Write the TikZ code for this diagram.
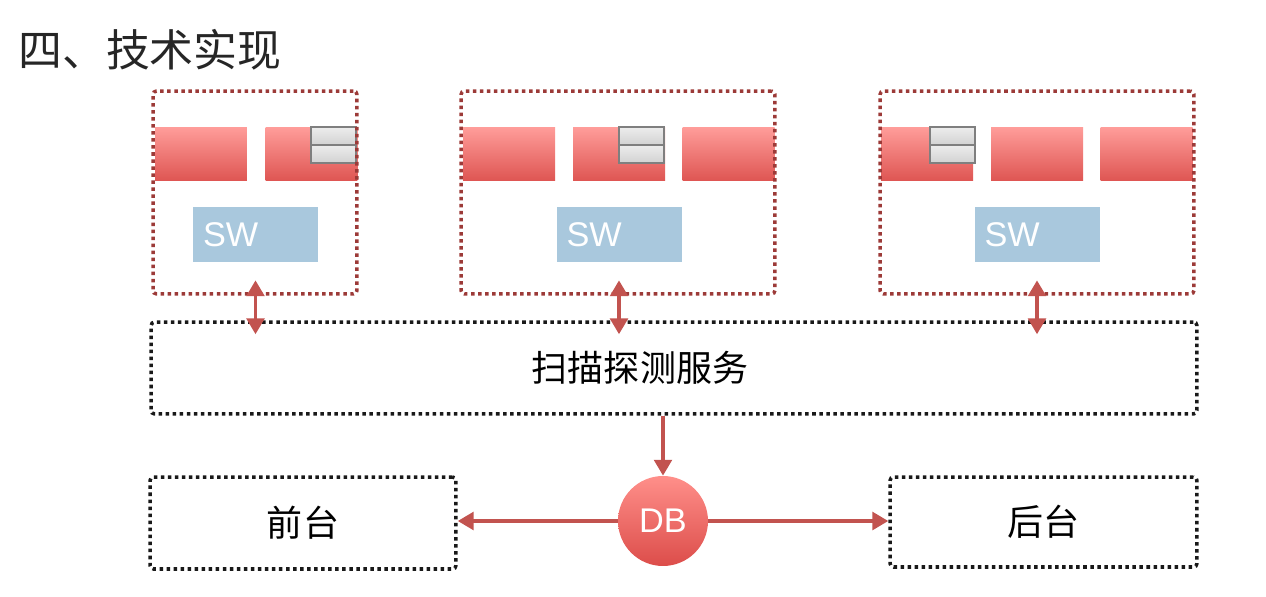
\documentclass[tikz,border=0pt]{standalone}
\usepackage{fontspec}
\setmainfont{Noto Sans CJK SC}
\setsansfont{Liberation Sans}
\usepackage{tikz}
\usetikzlibrary{positioning,arrows.meta,calc}
\definecolor{srvred}{HTML}{9C3A38}
\definecolor{linkred}{HTML}{C2534F}
\definecolor{blktop}{HTML}{FF9D9A}
\definecolor{blkbot}{HTML}{DE5552}
\definecolor{swblue}{HTML}{A9C8DD}
\definecolor{celltop}{HTML}{EDEDED}
\definecolor{cellbot}{HTML}{D2D2D2}
\definecolor{celledge}{HTML}{7F7F7F}
\definecolor{dbtop}{HTML}{FF8F8A}
\definecolor{dbbot}{HTML}{DC4D4A}
\newcommand{\lblfont}{\fontsize{20.5}{24}\selectfont}
\tikzset{
    server/.style = {
        draw=srvred,
        line width=2pt,
        dash pattern=on 2pt off 2pt,
        rounded corners=2pt,
        minimum height=4.06cm,
        inner sep=0pt
    },
    frame/.style = {
        draw=black!90,
        line width=2pt,
        dash pattern=on 2pt off 2pt,
        rounded corners=2pt,
        minimum height=1.84cm,
        inner sep=0pt,
        font=\lblfont
    },
    block/.style = {
        shape=rectangle,
        top color=blktop,
        bottom color=blkbot,
        minimum width=1.84cm,
        minimum height=1.08cm,
        inner sep=0pt
    },
    cell/.style = {
        draw=celledge,
        line width=0.8pt,
        top color=celltop,
        bottom color=cellbot,
        minimum width=0.9cm,
        minimum height=0.36cm,
        inner sep=0pt
    },
    sw/.style = {
        fill=swblue,
        minimum width=2.5cm,
        minimum height=1.1cm,
        text width=2.1cm,
        inner xsep=0.2cm,
        align=left,
        text=white,
        font=\sffamily\fontsize{19.5}{22}\selectfont
    },
    db/.style = {
        shape=circle,
        top color=dbtop,
        bottom color=dbbot,
        minimum size=1.8cm,
        inner sep=0pt,
        text=white,
        font=\sffamily\fontsize{19.5}{22}\selectfont
    },
    link/.style = {
        draw=linkred,
        line width=2pt
    },
    >={Triangle[width=10pt,length=9pt]},
}

\begin{document}
\begin{tikzpicture}[x=0.02cm, y=-0.02cm]
                \useasboundingbox (0,0) rectangle (1266,597);
                \node[anchor=west, font=\fontsize{25}{30}\selectfont, text=black!85] (title) at (12,50) {四、技术实现};

                % server A
                \node[block] (blkA1) at (201,154) {};
                \node[block] (blkA2) at (311.5,154) {};
                \node[cell] (cellA1) at (333.5,136) {};
                \node[cell] (cellA2) at (333.5,154) {};
                \node[sw] (swA) at (255.5,234.5) {SW};
                \node[server, minimum width=4.08cm] (srvA) at (255,192.5) {};

                % server B
                \node[block] (blkB1) at (509,154) {};
                \node[block] (blkB2) at (619,154) {};
                \node[block] (blkB3) at (728.5,154) {};
                \node[cell] (cellB1) at (641.5,136) {};
                \node[cell] (cellB2) at (641.5,154) {};
                \node[sw] (swB) at (619,234.5) {SW};
                \node[server, minimum width=6.28cm] (srvB) at (618,192.5) {};

                % server C
                \node[block] (blkC1) at (927,154) {};
                \node[block] (blkC2) at (1037,154) {};
                \node[block] (blkC3) at (1146.5,154) {};
                \node[cell] (cellC1) at (952.5,136) {};
                \node[cell] (cellC2) at (952.5,154) {};
                \node[sw] (swC) at (1037,234.5) {SW};
                \node[server, minimum width=6.28cm] (srvC) at (1037,192.5) {};

                \node[frame, minimum width=20.92cm, label={[font=\lblfont, xshift=-0.68cm]center:扫描探测服务}] (scan) at (674,368) {};
                \node[db] (db) at (663,521) {DB};
                \node[frame, minimum width=6.12cm] (front) at (303,523) {前台};
                \node[frame, minimum width=6.14cm, minimum height=1.8cm] (back) at (1043.5,522) {后台};

                \draw[link, <->] ($(swA.south)+(0,18)$) -- ($(swA.south |- scan.north)+(0,14)$);
                \draw[link, <->] ($(swB.south)+(0,18)$) -- ($(swB.south |- scan.north)+(0,14)$);
                \draw[link, <->] ($(swC.south)+(0,18)$) -- ($(swC.south |- scan.north)+(0,14)$);
                \draw[link, ->] (scan.south -| db) -- (db.north);
                \draw[link, ->] (db.west) -- (db.west -| front.east);
                \draw[link, ->] (db.east) -- (db.east -| back.west);
\end{tikzpicture}
\end{document}
